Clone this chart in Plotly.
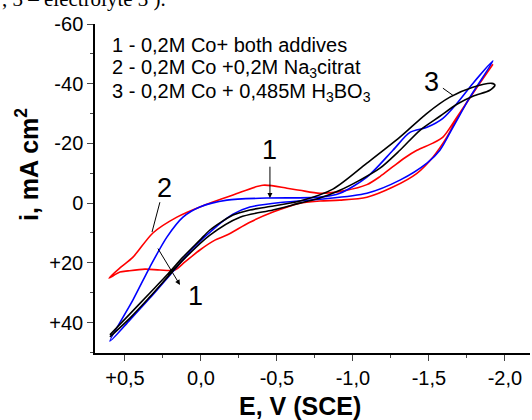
import plotly.graph_objects as go

# ---- data (E in V vs SCE, i in mA cm^-2 as labelled) ----
red_E = [0.605, 0.533, 0.480, 0.368, 0.270, 0.171, 0.105, 0.007, -0.092, -0.171, -0.322, -0.474,
         -0.651, -0.783, -0.914, -1.092, -1.263, -1.421, -1.526, -1.618, -1.704, -1.816, -1.921,
         -1.789, -1.684, -1.592, -1.526, -1.421, -1.342, -1.263, -1.178, -1.092, -0.947, -0.783,
         -0.651, -0.566, -0.408, -0.211, 0.007, 0.158, 0.316, 0.447, 0.533, 0.605]
red_i = [25.1, 23.1, 22.7, 22.1, 22.4, 22.4, 19.7, 15.7, 12.4, 10.7, 6.4, 3.0,
         0.0, -0.7, -1.0, -2.0, -5.4, -10.0, -15.4, -22.1, -30.1, -38.8, -46.5,
         -36.8, -28.8, -22.1, -20.1, -17.7, -15.2, -12.2, -8.9, -6.2, -4.2, -3.3,
         -4.3, -5.0, -6.0, -2.7, 1.3, 4.7, 10.0, 18.1, 21.7, 25.1]

blue_E = [0.599, 0.467, 0.336, 0.171, 0.053, -0.105, -0.211, -0.322, -0.539, -0.783, -1.092,
          -1.309, -1.487, -1.572, -1.658, -1.770, -1.921,
          -1.789, -1.684, -1.592, -1.487, -1.375, -1.263, -1.092, -0.914, -0.783, -0.434,
          -0.171, 0.007, 0.118, 0.224, 0.336, 0.447, 0.599]
blue_i = [46.2, 39.1, 31.8, 22.1, 15.1, 7.7, 3.7, 1.3, -0.3, -1.3, -3.3,
          -7.7, -13.4, -17.7, -25.4, -35.5, -47.6,
          -40.1, -33.4, -28.4, -25.4, -23.7, -17.7, -8.7, -3.3, -2.0, -1.7,
          -1.0, 1.3, 4.7, 11.4, 21.4, 32.4, 46.2]

black_E = [0.599, 0.467, 0.336, 0.224, 0.118, 0.007, -0.059, -0.211, -0.322, -0.434, -0.651,
           -0.868, -1.092, -1.309, -1.487, -1.638, -1.789, -1.914, -1.934,
           -1.901, -1.789, -1.684, -1.572, -1.441, -1.309, -1.178, -1.046, -0.914, -0.783,
           -0.651, -0.474, -0.257, -0.059, 0.118, 0.336, 0.467, 0.599]
black_i = [44.1, 37.1, 30.1, 24.1, 18.1, 12.4, 9.0, 4.0, 2.3, 1.3, -0.7,
           -4.7, -13.4, -22.1, -30.1, -35.5, -38.8, -40.1, -39.5,
           -37.8, -35.8, -33.1, -29.1, -24.4, -17.7, -11.7, -7.7, -4.3, -1.7,
           0.0, 2.3, 4.7, 10.7, 19.1, 31.4, 38.5, 44.8]

x_tickvals = [0.5, 0.0, -0.5, -1.0, -1.5, -2.0]
x_ticktext = ["+0,5", "0,0", "-0,5", "-1,0", "-1,5", "-2,0"]
y_tickvals = [-60, -40, -20, 0, 20, 40]
y_ticktext = ["-60", "-40", "-20", "0", "+20", "+40"]

legend_lines = ["1 - 0,2M Co+ both addives",
                "2 - 0,2M Co +0,2M Na<sub>3</sub>citrat",
                "3 - 0,2M Co + 0,485M H<sub>3</sub>BO<sub>3</sub>"]

FONT = "Arial, Liberation Sans, sans-serif"

fig = go.Figure()
fig.add_trace(go.Scatter(x=red_E, y=red_i, mode="lines", line=dict(color="#ff0000", width=1.6, shape="spline", smoothing=0.8)))
fig.add_trace(go.Scatter(x=blue_E, y=blue_i, mode="lines", line=dict(color="#0000ff", width=1.6, shape="spline", smoothing=0.8)))
fig.add_trace(go.Scatter(x=black_E, y=black_i, mode="lines", line=dict(color="#000000", width=1.6, shape="spline", smoothing=0.8)))

annotations = []
# legend-like text block
leg_y = [0.937, 0.866, 0.793]
for t, yy in zip(legend_lines, leg_y):
    annotations.append(dict(text=t, xref="paper", yref="paper", x=0.034, y=yy, xanchor="left", yanchor="middle",
                            showarrow=False, font=dict(family=FONT, size=20, color="black")))

# curve labels
for t, xx, yy in [("1", -0.454, -17.7), ("2", 0.243, -5.0), ("1", 0.039, 31.1), ("3", -1.520, -40.5)]:
    annotations.append(dict(text=t, x=xx, y=yy, xref="x", yref="y", showarrow=False,
                            font=dict(family=FONT, size=27, color="black")))

# arrows
annotations.append(dict(text="", x=-0.454, y=-1.7, ax=-0.454, ay=-12.7, xref="x", yref="y", axref="x", ayref="y",
                        showarrow=True, arrowhead=2, arrowsize=1, arrowwidth=1, arrowcolor="black"))
annotations.append(dict(text="", x=0.138, y=27.4, ax=0.289, ay=14.7, xref="x", yref="y", axref="x", ayref="y",
                        showarrow=True, arrowhead=2, arrowsize=1, arrowwidth=1, arrowcolor="black"))

# axis titles
annotations.append(dict(text="<b>E, V (SCE)</b>", xref="paper", yref="paper", x=(300 - 95) / 435, y=(353 - 406) / 329,
                        xanchor="center", yanchor="middle", showarrow=False, font=dict(family=FONT, size=25, color="black")))
annotations.append(dict(text="<b>i, mA cm<sup>2</sup></b>", xref="paper", yref="paper", x=(27 - 95) / 435, y=(353 - 165) / 329,
                        xanchor="center", yanchor="middle", textangle=-90, showarrow=False,
                        font=dict(family=FONT, size=25, color="black")))
# cropped document text at the very top
annotations.append(dict(text=", 3 \u2013 electrolyte 3 ).", xref="paper", yref="paper", x=0 - 95 / 435, y=(353 + 1) / 329,
                        xanchor="left", yanchor="middle", showarrow=False,
                        font=dict(family="Liberation Serif, Times New Roman, serif", size=21, color="black")))

shapes = [
    dict(type="line", xref="x", yref="y", x0=0.270, y0=-0.3, x1=0.322, y1=9.7, line=dict(color="black", width=1)),
    dict(type="line", xref="x", yref="y", x0=-1.592, y0=-38.5, x1=-1.658, y1=-36.1, line=dict(color="black", width=1)),
]

fig.update_layout(
    width=532, height=420,
    margin=dict(l=95, r=2, t=24, b=67),
    paper_bgcolor="white", plot_bgcolor="white",
    showlegend=False,
    font=dict(family=FONT, size=20, color="black"),
    annotations=annotations, shapes=shapes,
    xaxis=dict(range=[0.697, -2.165], tickvals=x_tickvals, ticktext=x_ticktext, ticks="outside", ticklen=6,
               tickwidth=1.3, showline=True, linewidth=1.5, linecolor="black", showgrid=False, zeroline=False,
               tickfont=dict(family=FONT, size=20), mirror=False,
               minor=dict(dtick=0.25, tick0=0, ticks="outside", ticklen=3, tickwidth=1.2, showgrid=False)),
    yaxis=dict(range=[50.2, -60], tickvals=y_tickvals, ticktext=y_ticktext, ticks="outside", ticklen=6,
               tickwidth=1.3, showline=True, linewidth=1.5, linecolor="black", showgrid=False, zeroline=False,
               tickfont=dict(family=FONT, size=20), mirror=False,
               minor=dict(dtick=10, tick0=0, ticks="outside", ticklen=3, tickwidth=1.2, showgrid=False)),
)

fig.write_html("out.html")
